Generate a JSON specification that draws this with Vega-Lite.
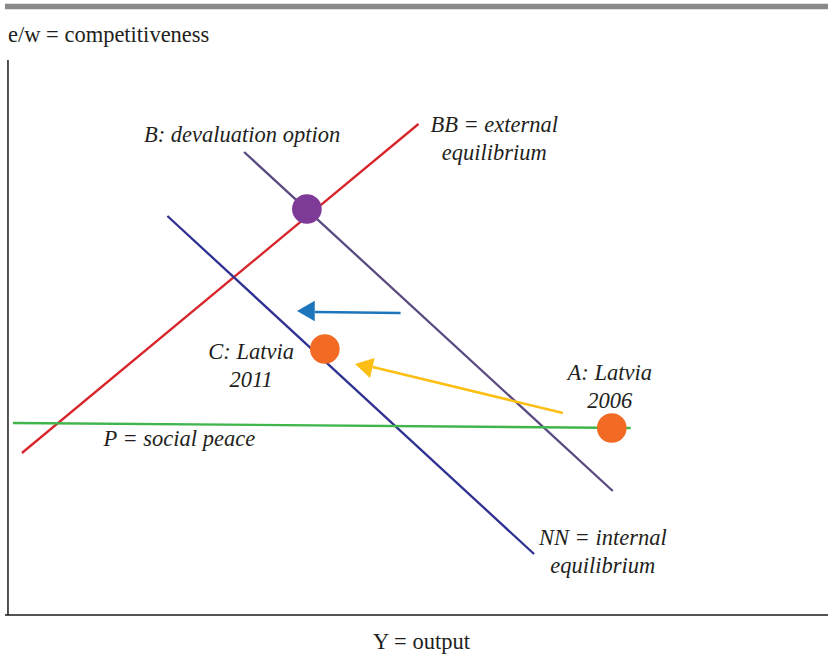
{
  "$schema": "https://vega.github.io/schema/vega-lite/v6.json",
  "autosize": {"type": "fit", "contains": "padding"},
  "width": 831,
  "height": 655,
  "padding": 0,
  "background": "white",
  "view": {"stroke": null},
  "config": {"font": "Liberation Serif"},
  "datasets": {
    "curves": [
      {"series": "BB", "x": 14, "y": 162},
      {"series": "BB", "x": 412, "y": 491},
      {"series": "PG", "x": 237, "y": 463},
      {"series": "PG", "x": 607, "y": 124},
      {"series": "NN", "x": 160, "y": 399},
      {"series": "NN", "x": 528, "y": 61},
      {"series": "P", "x": 5, "y": 192},
      {"series": "P", "x": 625, "y": 187}
    ],
    "shafts": [
      {"series": "shift", "x": 394, "y": 302},
      {"series": "shift", "x": 308, "y": 303},
      {"series": "adjust", "x": 557, "y": 202},
      {"series": "adjust", "x": 366, "y": 248}
    ],
    "heads": [
      {"series": "shift", "x": 299, "y": 304},
      {"series": "adjust", "x": 357, "y": 249}
    ],
    "points": [
      {"series": "B", "x": 300, "y": 406},
      {"series": "C", "x": 318, "y": 266},
      {"series": "A", "x": 606, "y": 187}
    ],
    "axes": [
      {"part": "yaxis", "x": 0, "y": 0, "x2": 0, "y2": 555},
      {"part": "xaxis", "x": -3, "y": 0, "x2": 823, "y2": 0}
    ],
    "bar": [
      {"x": -3, "y": 608.5, "x2": 823, "y2": 608.5}
    ],
    "labels": [
      {"text": "B: devaluation option", "x": 235, "y": 473},
      {"text": "BB = external\nequilibrium", "x": 488, "y": 483},
      {"text": "C: Latvia\n2011", "x": 244, "y": 256},
      {"text": "A: Latvia\n2006", "x": 604, "y": 235},
      {"text": "P = social peace", "x": 172, "y": 169},
      {"text": "NN = internal\nequilibrium", "x": 597, "y": 70}
    ],
    "titles": [
      {"text": "e/w = competitiveness", "x": 0, "y": 573, "pos": "left"},
      {"text": "Y = output", "x": 415, "y": -34, "pos": "center"}
    ]
  },
  "layer": [
    {
      "data": {"name": "bar"},
      "mark": {"type": "rule", "color": "#898989", "strokeWidth": 5.5},
      "encoding": {
        "x": {"field": "x", "type": "quantitative", "scale": {"domain": [-8, 823], "nice": false, "zero": false}, "axis": null},
        "y": {"field": "y", "type": "quantitative", "scale": {"domain": [-40, 615], "nice": false, "zero": false}, "axis": null},
        "x2": {"field": "x2"},
        "y2": {"field": "y2"}
      }
    },
    {
      "data": {"name": "axes"},
      "mark": {"type": "rule", "color": "#1a1a1a", "strokeWidth": 1.5},
      "encoding": {
        "x": {"field": "x", "type": "quantitative"},
        "y": {"field": "y", "type": "quantitative"},
        "x2": {"field": "x2"},
        "y2": {"field": "y2"}
      }
    },
    {
      "data": {"name": "curves"},
      "mark": {"type": "line", "strokeWidth": 2.3},
      "encoding": {
        "x": {"field": "x", "type": "quantitative"},
        "y": {"field": "y", "type": "quantitative"},
        "color": {
          "field": "series", "type": "nominal", "legend": null,
          "scale": {
            "domain": ["BB", "PG", "NN", "P", "B", "C", "A", "shift", "adjust"],
            "range": ["#D7262C", "#5B4A80", "#2E3191", "#3FB54B", "#7D3A96", "#F26A24", "#F26A24", "#1D75BC", "#FDBF14"]
          }
        },
        "detail": {"field": "series"}
      }
    },
    {
      "data": {"name": "shafts"},
      "mark": {"type": "line", "strokeWidth": 2.6},
      "encoding": {
        "x": {"field": "x", "type": "quantitative"},
        "y": {"field": "y", "type": "quantitative"},
        "color": {"field": "series", "type": "nominal", "legend": null},
        "detail": {"field": "series"}
      }
    },
    {
      "data": {"name": "heads"},
      "transform": [{"filter": "datum.series === 'shift'"}],
      "mark": {"type": "point", "shape": "triangle-left", "filled": true, "opacity": 1, "size": 420, "angle": 0},
      "encoding": {
        "x": {"field": "x", "type": "quantitative"},
        "y": {"field": "y", "type": "quantitative"},
        "color": {"field": "series", "type": "nominal", "legend": null}
      }
    },
    {
      "data": {"name": "heads"},
      "transform": [{"filter": "datum.series === 'adjust'"}],
      "mark": {"type": "point", "shape": "triangle-left", "filled": true, "opacity": 1, "size": 420, "angle": 13},
      "encoding": {
        "x": {"field": "x", "type": "quantitative"},
        "y": {"field": "y", "type": "quantitative"},
        "color": {"field": "series", "type": "nominal", "legend": null}
      }
    },
    {
      "data": {"name": "points"},
      "mark": {"type": "point", "shape": "circle", "filled": true, "opacity": 1, "size": 880},
      "encoding": {
        "x": {"field": "x", "type": "quantitative"},
        "y": {"field": "y", "type": "quantitative"},
        "color": {"field": "series", "type": "nominal", "legend": null}
      }
    },
    {
      "data": {"name": "labels"},
      "mark": {"type": "text", "font": "Liberation Serif", "fontStyle": "italic", "fontSize": 22.5, "align": "center", "baseline": "alphabetic", "lineBreak": "\n", "lineHeight": 28, "color": "#231F20"},
      "encoding": {
        "x": {"field": "x", "type": "quantitative"},
        "y": {"field": "y", "type": "quantitative"},
        "text": {"field": "text"}
      }
    },
    {
      "data": {"name": "titles"},
      "transform": [{"filter": "datum.pos === 'left'"}],
      "mark": {"type": "text", "font": "Liberation Serif", "fontSize": 22.5, "align": "left", "baseline": "alphabetic", "color": "#231F20"},
      "encoding": {
        "x": {"field": "x", "type": "quantitative"},
        "y": {"field": "y", "type": "quantitative"},
        "text": {"field": "text"}
      }
    },
    {
      "data": {"name": "titles"},
      "transform": [{"filter": "datum.pos === 'center'"}],
      "mark": {"type": "text", "font": "Liberation Serif", "fontSize": 22.5, "align": "center", "baseline": "alphabetic", "color": "#231F20"},
      "encoding": {
        "x": {"field": "x", "type": "quantitative"},
        "y": {"field": "y", "type": "quantitative"},
        "text": {"field": "text"}
      }
    }
  ]
}
